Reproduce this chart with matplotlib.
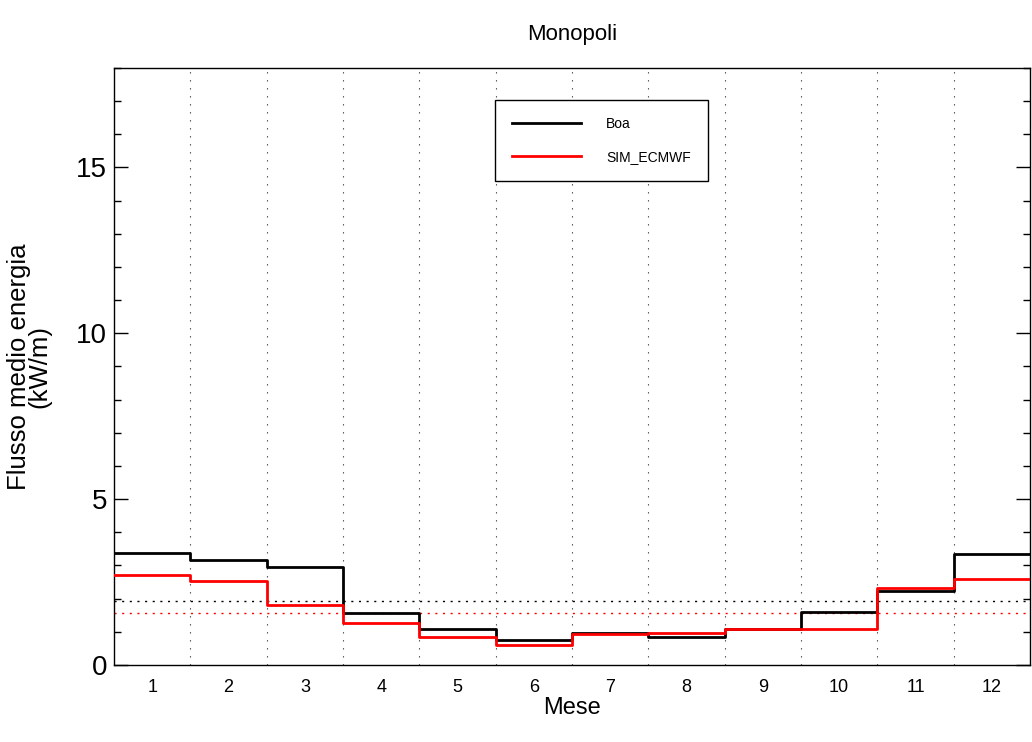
import numpy as np
import matplotlib
matplotlib.use('Agg')
import matplotlib.pyplot as plt
from matplotlib.ticker import MultipleLocator

plt.rcParams['font.family'] = ['Liberation Sans', 'DejaVu Sans']

# monthly mean energy flux (kW/m)
months = np.arange(1, 13)
boa = [3.39, 3.17, 2.96, 1.58, 1.08, 0.75, 0.95, 0.83, 1.08, 1.60, 2.24, 3.35]
sim_ecmwf = [2.72, 2.52, 1.80, 1.27, 0.84, 0.61, 0.92, 0.97, 1.08, 1.08, 2.31, 2.59]

fig = plt.figure(figsize=(10.32, 7.42), dpi=100)
ax = fig.add_axes([0.1105, 0.1038, 0.8875, 0.8046])

# step curves spanning each whole month
def step(vals):
    x = np.append(months - 0.5, months[-1] + 0.5)
    y = np.append(vals, vals[-1])
    return x, y

xb, yb = step(boa)
xr, yr = step(sim_ecmwf)
ax.step(xb, yb, where='post', color='black', lw=2, label='Boa', zorder=3)
ax.step(xr, yr, where='post', color='red', lw=2, label='SIM_ECMWF', zorder=4)

# annual means as dotted lines
ax.axhline(np.mean(boa), color='black', ls=(0, (1.5, 4)), lw=1)
ax.axhline(np.mean(sim_ecmwf), color='red', ls=(0, (1.5, 4)), lw=1)

# month boundaries
for b in months[:-1] + 0.5:
    ax.axvline(b, color='#444444', ls=(0, (1.2, 6)), lw=0.8, zorder=1)

ax.set_xlim(0.5, 12.5)
ax.set_ylim(0, 18)
ax.set_xticks(months)
ax.set_xticklabels([str(m) for m in months], fontsize=13)
ax.tick_params(axis='x', length=0, pad=10)
ax.set_yticks([0, 5, 10, 15])
ax.yaxis.set_minor_locator(MultipleLocator(1))
ax.tick_params(axis='y', which='major', direction='in', length=10, labelsize=20,
               right=True, width=1, pad=5)
ax.tick_params(axis='y', which='minor', direction='in', length=5, right=True, width=1)
for s in ax.spines.values():
    s.set_linewidth(1)

ax.set_xlabel('Mese', fontsize=17, labelpad=1)
ax.set_ylabel('Flusso medio energia\n(kW/m)', fontsize=18.5, linespacing=0.8, labelpad=18)
ax.set_title('Monopoli', fontsize=16, pad=20)

leg = ax.legend(loc='upper left', bbox_to_anchor=(0.416, 0.946), fontsize=10,
                frameon=True, fancybox=False, edgecolor='black', framealpha=1,
                handlelength=5, handletextpad=1.8, borderpad=1.2, labelspacing=1.4,
                borderaxespad=0)
leg.get_frame().set_linewidth(1)

fig.savefig('out.png', dpi=100)
